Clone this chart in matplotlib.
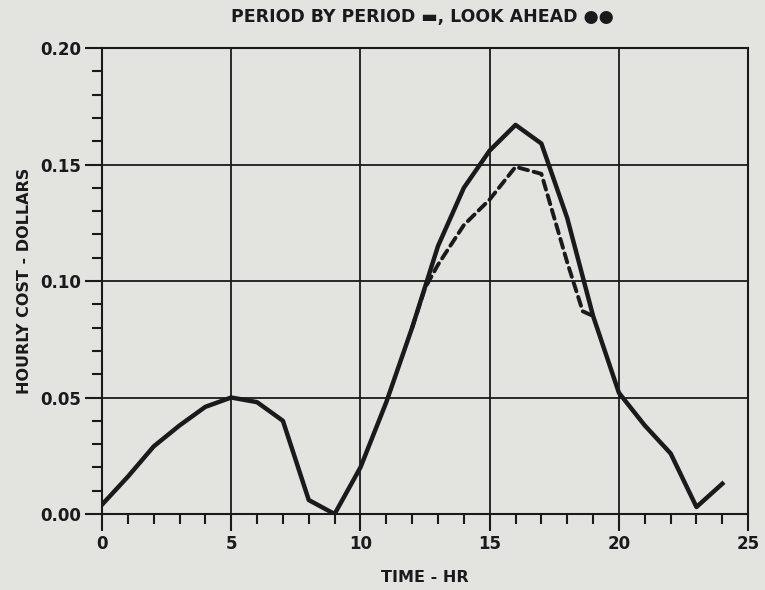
import numpy as np
import matplotlib
matplotlib.use("Agg")
import matplotlib.pyplot as plt
from matplotlib.ticker import MultipleLocator

# datos
horas = list(range(0, 25))
costo_periodo = [0.004, 0.016, 0.029, 0.038, 0.046, 0.050, 0.048, 0.040, 0.006, 0.000,
                 0.020, 0.048, 0.080, 0.115, 0.140, 0.156, 0.167, 0.159, 0.127, 0.085,
                 0.052, 0.038, 0.026, 0.003, 0.013]
horas_adelanto = [12, 12.5, 13, 14, 15, 16, 17, 18, 18.6, 19]
costo_adelanto = [0.080, 0.097, 0.107, 0.124, 0.135, 0.149, 0.146, 0.108, 0.087, 0.085]

xticks = [0, 5, 10, 15, 20, 25]
yticks = [0.00, 0.05, 0.10, 0.15, 0.20]

fondo = "#e3e3e0"
tinta = "#1a1a1a"
fuente = {"family": "DejaVu Sans", "weight": "bold"}

fig = plt.figure(figsize=(7.65, 5.9), dpi=100, facecolor=fondo)
ax = fig.add_axes([0.1333, 0.1288, 0.978 - 0.1333, 0.9186 - 0.1288])
ax.set_facecolor(fondo)

ax.plot(horas, costo_periodo, color=tinta, linewidth=3.2, solid_joinstyle="round")
ax.plot(horas_adelanto, costo_adelanto, color=tinta, linewidth=2.8,
        linestyle=(0, (2.4, 1.5)), dash_capstyle="round")

ax.set_xlim(0, 25)
ax.set_ylim(0, 0.20)
ax.set_xticks(xticks)
ax.set_yticks(yticks)
ax.set_xticklabels([str(t) for t in xticks])
ax.set_yticklabels([f"{t:.2f}" for t in yticks])
ax.xaxis.set_minor_locator(MultipleLocator(1))
ax.yaxis.set_minor_locator(MultipleLocator(0.01))

ax.grid(True, which="major", color=tinta, linewidth=1.3)
ax.tick_params(which="major", direction="out", length=12, width=1.5, color=tinta,
               labelsize=12, pad=3)
ax.tick_params(which="minor", direction="out", length=7, width=1.5, color=tinta)
for lab in ax.get_xticklabels() + ax.get_yticklabels():
    lab.set_fontweight("bold")
    lab.set_color(tinta)
for s in ax.spines.values():
    s.set_linewidth(1.5)
    s.set_color(tinta)

ax.set_xlabel("TIME - HR", fontsize=11.5, color=tinta, labelpad=12, **fuente)
ax.set_ylabel("HOURLY COST - DOLLARS", fontsize=11.5, color=tinta, labelpad=6, **fuente)

fig.text(0.552, 0.972, "PERIOD BY PERIOD \u25ac, LOOK AHEAD \u25cf\u25cf", ha="center", va="center",
         fontsize=12.5, color=tinta, **fuente)

fig.savefig("out.png", dpi=100, facecolor=fondo)
